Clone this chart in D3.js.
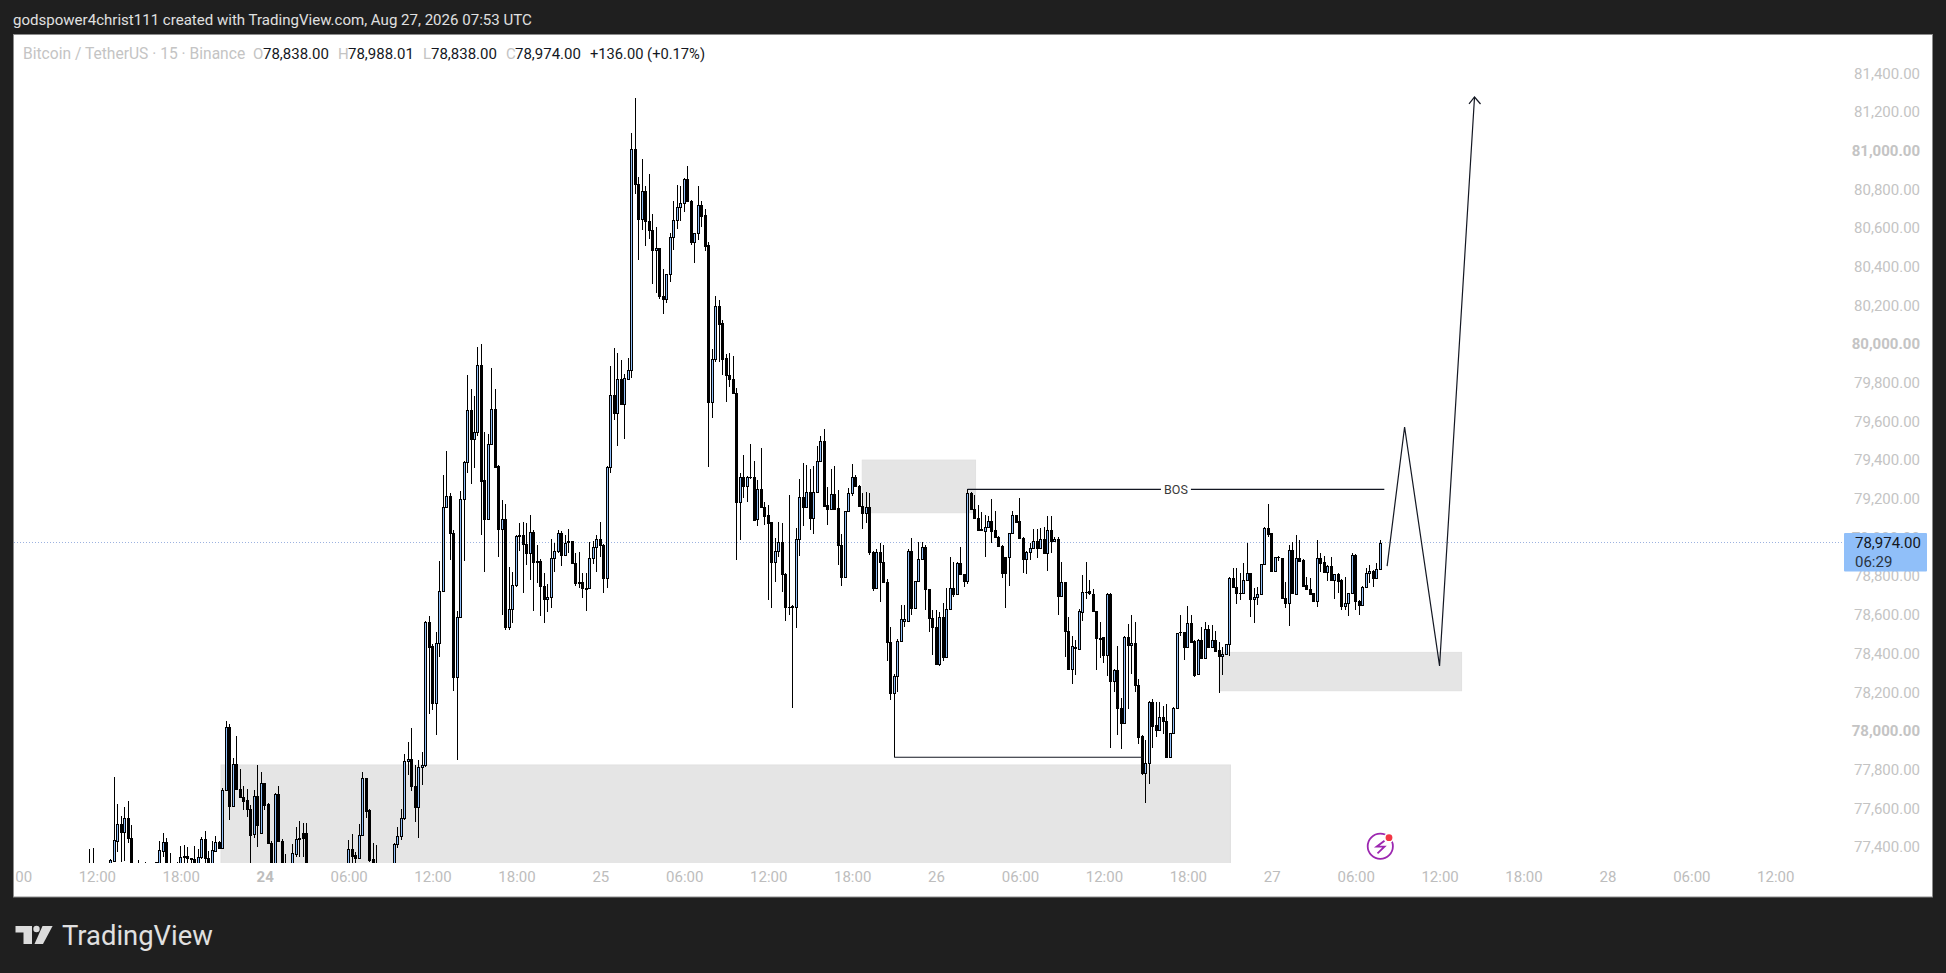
<!DOCTYPE html>
<html>
<head>
<meta charset="utf-8">
<style>
  html, body { margin: 0; padding: 0; background: #1f1f1f; }
  svg { display: block; }
  text { font-family: Roboto, sans-serif; }
</style>
<script src="https://cdn.jsdelivr.net/npm/d3@7"></script>
</head>
<body>
<svg id="chart" width="1946" height="973"></svg>
<script>
// Step 1: Data, BTCUSDT 15 minute bars
// ==============================================
const opens = [
  77150,77130,77160,77120,77100,77200,77270,77329,77433,77519,
  77479,77548,77445,77250,77230,77270,77250,77290,77260,77300,
  77318,77381,77426,77280,77300,77270,77300,77350,77353,77341,
  77338,77300,77346,77439,77341,77290,77381,77424,77393,77694,
  78018,77613,77827,77698,77660,77643,77595,77467,77663,77474,
  77729,77622,77422,77260,77672,77433,77260,77240,77290,77365,
  77439,77470,77470,77260,77180,77130,77170,77140,77090,77150,
  77190,77160,77210,77240,77290,77388,77358,77345,77460,77755,
  77591,77336,77280,77250,77220,77200,77260,77280,77414,77459,
  77548,77843,77853,77717,77609,77812,77826,78563,78439,78146,
  78453,78725,79155,79216,79021,78281,78590,79197,79388,79657,
  79507,79543,79891,79297,79093,79481,79662,79369,79042,79098,
  78539,78628,78756,79008,79011,78964,78921,79026,78871,78881,
  78750,78680,78690,78895,78928,79021,78911,78980,78980,78866,
  78768,78768,78737,78737,78895,78949,78990,78961,78792,79366,
  79734,79641,79817,79691,79820,79864,81007,80826,80645,80790,
  80634,80588,80485,80495,80250,80231,80360,80552,80640,80707,
  80727,80852,80741,80529,80572,80717,80665,80512,79702,79921,
  80195,80107,79926,79839,79817,79745,79182,79311,79268,79315,
  79311,79094,79249,79159,79116,79078,78875,78928,78975,78811,
  78642,78642,78642,78990,79207,79159,79233,79102,79233,79395,
  79497,79166,79145,79223,79150,78961,78794,79135,79232,79311,
  79268,79164,79125,79156,78927,78741,78923,78875,78768,78461,
  78198,78284,78463,78567,78567,78930,78637,78773,78887,78949,
  78732,78585,78535,78346,78587,78384,78629,78741,78706,78866,
  78809,78775,79228,79145,79102,79042,79035,79056,79083,79039,
  79004,78958,78897,78897,79021,79114,79083,78999,78890,78927,
  78944,78983,78944,78990,78921,79037,78983,78990,78699,78768,
  78518,78320,78430,78426,78616,78717,78722,78708,78622,78478,
  78483,78395,78707,78259,78315,78116,78042,78488,78442,78452,
  78240,77973,77784,77832,78152,78030,78004,78072,78053,77866,
  77987,78121,78509,78509,78435,78556,78466,78292,78470,78375,
  78525,78432,78470,78418,78389,78397,78448,78789,78746,78715,
  78715,78780,78815,78680,78694,78706,78861,79047,79022,78829,
  78898,78892,78686,78663,78935,78708,78892,78884,78754,78732,
  78711,78670,78892,78872,78823,78854,78779,78810,78780,78646,
  78660,78711,78910,78673,78651,78746,78815,78825,78789,78838
];
const highs = [
  77388,77395,77250,77200,77240,77300,77338,77763,77622,77560,
  77608,77638,77514,77300,77333,77300,77322,77310,77310,77321,
  77433,77474,77445,77371,77310,77324,77405,77408,77402,77345,
  77405,77388,77453,77483,77380,77433,77457,77433,77703,78053,
  78036,77858,77974,77801,77715,77698,77617,77694,77824,77789,
  77732,77626,77430,77677,77715,77440,77364,77300,77415,77505,
  77536,77526,77526,77290,77220,77200,77230,77190,77170,77220,
  77260,77240,77280,77300,77436,77467,77376,77519,77786,77755,
  77595,77419,77410,77300,77290,77280,77310,77420,77505,77595,
  77881,77941,78014,77824,77850,77891,78570,78594,78450,78510,
  78878,79322,79447,79231,79038,78620,79238,79397,79839,79770,
  79733,79986,80000,79546,79534,79874,79765,79374,79193,79173,
  78845,78823,79012,79073,79080,79076,79114,79038,78961,78887,
  78814,78762,78990,78969,79038,79033,79012,79042,78983,78921,
  78923,78818,78814,78976,78983,79011,79080,78964,79369,79886,
  79982,79955,79920,79845,79926,81089,81270,80862,80955,80817,
  80879,80671,80605,80498,80386,80364,80572,80740,80820,80817,
  80857,80920,80745,80576,80817,80740,80696,80526,79975,80248,
  80228,80124,79949,79952,79938,79771,79335,79426,79318,79483,
  79395,79297,79461,79185,79168,79082,78996,79082,79073,78815,
  79220,78649,79047,79301,79383,79375,79352,79369,79473,79525,
  79559,79259,79352,79369,79245,79018,79139,79254,79380,79323,
  79271,79232,79233,79228,78930,78939,78970,78961,78785,78539,
  78294,78473,78651,78651,78939,78996,78777,78975,78978,78961,
  78735,78625,78625,78613,78663,78737,78901,78875,78875,78952,
  78813,79249,79237,79220,79168,79133,79116,79111,79197,79139,
  79008,78961,78901,79025,79139,79118,79204,79002,78930,78970,
  79044,79042,79047,79056,79113,79113,79004,79004,78875,78772,
  78587,78490,78470,78628,78806,78875,78780,78732,78622,78564,
  78487,78711,78711,78318,78439,78168,78492,78551,78599,78564,
  78271,77977,77953,78156,78163,78151,78151,78128,78139,77991,
  78125,78507,78599,78513,78645,78599,78470,78473,78535,78564,
  78547,78547,78518,78461,78432,78449,78794,78841,78841,78815,
  78867,78970,78818,78737,78746,78865,79053,79173,79025,78901,
  78904,78896,78772,78961,78978,79013,78987,78887,78794,78789,
  78715,78987,78918,78906,78858,78897,78813,78815,78784,78798,
  78715,78922,78913,78677,78749,78841,78858,78832,78870,78988.01
];
const lows = [
  77100,77100,77080,77050,77050,77150,77200,77324,77376,77324,
  77329,77419,77200,77180,77200,77200,77200,77220,77210,77250,
  77250,77350,77230,77220,77240,77220,77260,77280,77280,77300,
  77250,77260,77340,77290,77260,77270,77375,77388,77390,77690,
  77539,77610,77695,77655,77591,77557,77250,77445,77398,77470,
  77591,77419,77200,77200,77430,77200,77150,77150,77250,77350,
  77350,77350,77200,77150,77100,77080,77120,77060,77050,77110,
  77150,77120,77170,77200,77250,77290,77290,77336,77455,77548,
  77325,77230,77200,77180,77160,77170,77210,77250,77397,77436,
  77540,77772,77691,77531,77448,77721,77815,78088,78108,77979,
  78381,78719,79150,78883,78208,77850,78585,78880,79331,79279,
  79360,79524,79012,78823,79090,79478,79362,78900,78599,78521,
  78521,78559,78745,78931,78714,78857,78780,78621,78766,78594,
  78559,78616,78633,78823,78921,78852,78907,78921,78861,78749,
  78737,78688,78621,78733,78862,78821,78900,78714,78737,79335,
  79607,79472,79686,79510,79828,79826,80776,80435,80590,80509,
  80545,80310,80266,80233,80154,80214,80323,80486,80595,80638,
  80684,80738,80512,80421,80538,80607,80483,79366,79619,79909,
  79908,79840,79702,79776,79745,78884,78987,79202,79185,79304,
  79087,79061,79152,79064,78677,78634,78772,78901,78720,78570,
  78599,78120,78530,78906,79059,79156,79039,79018,79228,79392,
  79159,79064,79142,79142,78858,78749,78791,79132,79216,79263,
  79161,79044,79073,78909,78723,78737,78668,78765,78363,78160,
  77864,78203,78460,78539,78563,78599,78634,78770,78884,78625,
  78513,78393,78342,78336,78363,78380,78625,78694,78703,78806,
  78746,78760,79142,79099,79037,79039,78901,79053,78970,79001,
  78954,78789,78637,78751,79018,79078,78996,78818,78811,78884,
  78940,78892,78940,78918,78828,78918,78980,78599,78696,78384,
  78316,78242,78289,78421,78570,78680,78703,78617,78314,78375,
  78352,78283,77913,78202,77978,77906,78039,78113,78294,78202,
  77935,77772,77629,77725,77913,77970,78001,77982,77858,77863,
  77984,78118,78492,78366,78432,78457,78280,78289,78371,78371,
  78428,78428,78411,78197,78289,78394,78388,78742,78656,78677,
  78711,78777,78591,78556,78651,78703,78858,79004,78823,78825,
  78880,78682,78634,78544,78708,78705,78877,78748,78729,78705,
  78667,78642,78823,78820,78777,78777,78682,78711,78625,78625,
  78596,78708,78625,78599,78648,78742,78763,78746,78785,78838
];
const closes = [
  77130,77160,77120,77100,77200,77270,77333,77436,77519,77479,
  77548,77445,77250,77230,77270,77250,77290,77260,77300,77320,
  77384,77426,77280,77300,77270,77300,77346,77352,77341,77340,
  77300,77346,77439,77341,77290,77384,77424,77393,77694,78018,
  77613,77827,77698,77660,77639,77595,77462,77663,77514,77729,
  77617,77422,77250,77672,77433,77260,77240,77290,77367,77439,
  77445,77445,77260,77180,77130,77170,77140,77090,77150,77190,
  77160,77210,77240,77290,77388,77355,77341,77460,77755,77588,
  77333,77280,77250,77220,77200,77260,77280,77414,77459,77548,
  77843,77853,77717,77609,77812,77826,78563,78436,78146,78453,
  78725,79155,79216,79021,78281,78590,79197,79388,79657,79507,
  79543,79891,79293,79093,79481,79662,79366,79042,79097,78539,
  78628,78756,79007,79011,78964,78921,79026,78871,78881,78750,
  78680,78690,78895,78928,79021,78911,78974,78978,78866,78766,
  78767,78737,78736,78895,78949,78990,78961,78792,79366,79734,
  79641,79817,79690,79822,79864,81007,80826,80645,80790,80634,
  80588,80485,80495,80250,80231,80360,80552,80640,80707,80727,
  80852,80741,80529,80572,80717,80664,80509,79702,79921,80195,
  80105,79925,79840,79817,79745,79182,79311,79266,79314,79314,
  79090,79249,79156,79113,79077,78875,78928,78975,78810,78642,
  78641,78645,78990,79207,79159,79233,79102,79233,79395,79497,
  79163,79145,79223,79145,78961,78794,79135,79232,79311,79268,
  79164,79125,79156,78927,78741,78923,78875,78768,78461,78198,
  78284,78463,78577,78577,78930,78637,78773,78887,78949,78732,
  78585,78535,78346,78587,78384,78629,78741,78706,78866,78809,
  78775,79228,79145,79102,79040,79040,79056,79083,79035,79004,
  78958,78818,78818,79021,79114,79082,78999,78890,78927,78944,
  78983,78944,78990,78921,79037,78983,78990,78699,78768,78518,
  78321,78439,78432,78619,78716,78720,78711,78622,78478,78477,
  78395,78707,78259,78315,78116,78042,78488,78442,78452,78239,
  77970,77784,77832,78152,78027,78004,78072,78053,77866,77987,
  78121,78504,78510,78435,78556,78461,78289,78470,78375,78525,
  78432,78470,78414,78389,78397,78447,78789,78746,78711,78713,
  78780,78815,78680,78694,78706,78861,79047,79018,78829,78898,
  78897,78686,78663,78935,78711,78892,78880,78751,78732,78708,
  78670,78892,78870,78823,78854,78780,78810,78777,78646,78660,
  78711,78910,78673,78651,78746,78815,78825,78789,78835,78974
];

const firstBarTime = Date.UTC(2026, 7, 23, 11, 30);
const barMinutes = 15;

const priceTicks = [77400,77600,77800,78000,78200,78400,78600,78800,79000,79200,79400,79600,79800,80000,80200,80400,80600,80800,81000,81200,81400];
const timeTickLabels = ["06:00","12:00","18:00","24","06:00","12:00","18:00","25","06:00","12:00","18:00","26","06:00","12:00","18:00","27","06:00","12:00","18:00","28","06:00","12:00"];
const timeTicks = timeTickLabels.map((d, i) => Date.UTC(2026, 7, 23, 6 + i * 6));

// drawings on the chart, anchored on bar number and price
const zoneStartBars = [37.5, 220.9, 323];
const zoneEndBars = [326.2, 253.3, 392.3];
const zoneTops = [77824, 79400, 78406];
const zoneBottoms = [77200, 79128, 78208];
const pathBars = [371, 376, 386, 396];
const pathPrices = [78852, 79571, 78336, 81277];
const bosBars = [251, 370.2];
const bosPrice = 79249;
const lowLineBars = [230, 301];
const lowLinePrice = 77864;
const lastPrice = 78974;

// Step 2: Scales
// ==============================================
const svg = d3.select("#chart");

const xTime = d3.scaleUtc()
  .domain([Date.UTC(2026, 7, 24), Date.UTC(2026, 7, 28)])
  .range([264.7, 1607.4]);
const yScale = d3.scaleLinear()
  .domain([77400, 81400])
  .range([847, 73.2]);

const barX = i => xTime(firstBarTime + i * barMinutes * 60000);
const barPx = i => Math.floor(barX(i));

// Step 3: Frame
// ==============================================
svg.append("rect").attr("width", 1946).attr("height", 973).attr("fill", "#1f1f1f");
svg.append("rect")
  .attr("x", 13.5).attr("y", 34.5).attr("width", 1919).attr("height", 862.5)
  .attr("fill", "#ffffff").attr("stroke", "#8c8c8c");

const defs = svg.append("defs");
defs.append("clipPath").attr("id", "pane")
  .append("rect").attr("x", 14).attr("y", 35).attr("width", 1830).attr("height", 828);
defs.append("clipPath").attr("id", "timeClip")
  .append("rect").attr("x", 15.5).attr("y", 865).attr("width", 1830).attr("height", 30);

svg.append("text").attr("x", 13).attr("y", 25)
  .attr("font-size", 15.05).attr("fill", "#e0e0e0")
  .text("godspower4christ111 created with TradingView.com, Aug 27, 2026 07:53 UTC");

// Step 4: Price line, zones, candles
// ==============================================
const pane = svg.append("g").attr("clip-path", "url(#pane)");

pane.append("line")
  .attr("x1", 14).attr("x2", 1844)
  .attr("y1", yScale(lastPrice)).attr("y2", yScale(lastPrice))
  .attr("stroke", "#9cb2e0").attr("stroke-dasharray", "1,2");

pane.selectAll(".zone")
  .data(zoneStartBars)
  .enter().append("rect")
  .attr("class", "zone")
  .attr("x", d => barX(d))
  .attr("width", (d, i) => barX(zoneEndBars[i]) - barX(d))
  .attr("y", (d, i) => yScale(zoneTops[i]))
  .attr("height", (d, i) => yScale(zoneBottoms[i]) - yScale(zoneTops[i]))
  .attr("fill", "#e5e5e5").attr("stroke", "#e1e1e1").attr("stroke-width", 1);

const candles = pane.append("g").attr("shape-rendering", "crispEdges");

candles.selectAll(".wick")
  .data(opens)
  .enter().append("rect")
  .attr("class", "wick")
  .attr("x", (d, i) => barPx(i))
  .attr("width", 1)
  .attr("y", (d, i) => Math.round(yScale(highs[i])))
  .attr("height", (d, i) => Math.max(1, Math.round(yScale(lows[i])) - Math.round(yScale(highs[i]))))
  .attr("fill", "#000");

const bodyTop = i => Math.round(yScale(Math.max(opens[i], closes[i])));
const bodyBottom = i => Math.round(yScale(Math.min(opens[i], closes[i])));

candles.selectAll(".body")
  .data(opens)
  .enter().append("rect")
  .attr("class", "body")
  .attr("x", (d, i) => barPx(i) - 1)
  .attr("width", 3)
  .attr("y", (d, i) => bodyTop(i))
  .attr("height", (d, i) => Math.max(1, bodyBottom(i) - bodyTop(i) + 1))
  .attr("fill", "#000");

candles.selectAll(".fill")
  .data(d3.range(opens.length).filter(i => closes[i] > opens[i] && bodyBottom(i) - bodyTop(i) > 1))
  .enter().append("rect")
  .attr("class", "fill")
  .attr("x", i => barPx(i))
  .attr("width", 1)
  .attr("y", i => bodyTop(i) + 1)
  .attr("height", i => bodyBottom(i) - bodyTop(i) - 1)
  .attr("fill", "#90bff9");

// Step 5: Trend lines and arrow
// ==============================================
pane.append("line")
  .attr("x1", barX(lowLineBars[0])).attr("x2", barX(lowLineBars[1]))
  .attr("y1", yScale(lowLinePrice)).attr("y2", yScale(lowLinePrice))
  .attr("stroke", "#131722").attr("stroke-width", 1.2);

pane.append("line")
  .attr("x1", barX(bosBars[0])).attr("x2", barX(bosBars[1]))
  .attr("y1", yScale(bosPrice)).attr("y2", yScale(bosPrice))
  .attr("stroke", "#131722").attr("stroke-width", 1.2);

const bosMid = (barX(bosBars[0]) + barX(bosBars[1])) / 2;
pane.append("rect")
  .attr("x", bosMid - 15).attr("width", 30)
  .attr("y", yScale(bosPrice) - 6).attr("height", 12)
  .attr("fill", "#fff");
pane.append("text")
  .attr("x", bosMid).attr("y", yScale(bosPrice) + 4.5)
  .attr("text-anchor", "middle").attr("font-size", 12.5).attr("fill", "#3a3a3a")
  .text("BOS");

const forecast = d3.line()
  .x(d => barX(d))
  .y((d, i) => yScale(pathPrices[i]));
pane.append("path")
  .attr("d", forecast(pathBars))
  .attr("fill", "none").attr("stroke", "#131722").attr("stroke-width", 1.2);

// arrow head at the end of the forecast
const tipX = barX(pathBars[3]);
const tipY = yScale(pathPrices[3]);
pane.append("path")
  .attr("d", `M${tipX - 5.5},${tipY + 7}L${tipX},${tipY}L${tipX + 6},${tipY + 7}`)
  .attr("fill", "none").attr("stroke", "#131722").attr("stroke-width", 1.2);

// Step 6: Axes
// ==============================================
const yAxis = svg.append("g")
  .attr("transform", "translate(1920,0)")
  .call(d3.axisRight(yScale).tickValues(priceTicks).tickFormat(d3.format(",.2f")).tickSize(0).tickPadding(0));
yAxis.select(".domain").remove();
yAxis.selectAll("text")
  .attr("text-anchor", "end")
  .attr("font-family", "Roboto, sans-serif")
  .attr("font-size", 15)
  .attr("font-weight", d => d % 1000 === 0 ? 700 : 400)
  .attr("fill", "#c4c4c4");

const xAxis = svg.append("g")
  .attr("clip-path", "url(#timeClip)")
  .append("g")
  .attr("transform", "translate(0,871)")
  .call(d3.axisBottom(xTime).tickValues(timeTicks).tickFormat((d, i) => timeTickLabels[i]).tickSize(0).tickPadding(0));
xAxis.select(".domain").remove();
xAxis.selectAll("text")
  .attr("font-family", "Roboto, sans-serif")
  .attr("font-size", 15)
  .attr("font-weight", (d, i) => timeTickLabels[i] === "24" ? 700 : 400)
  .attr("fill", "#bdbdbd");

// last price label over the axis
svg.append("rect")
  .attr("x", 1844).attr("y", yScale(lastPrice) - 9.5)
  .attr("width", 83).attr("height", 38.5).attr("rx", 1)
  .attr("fill", "#90bff9");
svg.append("text").attr("x", 1855).attr("y", yScale(lastPrice) + 5.5)
  .attr("font-size", 15).attr("fill", "#131722").text("78,974.00");
svg.append("text").attr("x", 1855).attr("y", yScale(lastPrice) + 24)
  .attr("font-size", 15).attr("fill", "#2a3442").text("06:29");

// Step 7: Legend
// ==============================================
const legendParts = [
  { x: 23, size: 15.6, text: "Bitcoin / TetherUS \u00b7 15 \u00b7 Binance", color: "#c4c4c4" },
  { x: 253, size: 15, text: "O", color: "#c4c4c4" },
  { x: 263, size: 15, text: "78,838.00", color: "#131722" },
  { x: 338, size: 15, text: "H", color: "#c4c4c4" },
  { x: 348, size: 15, text: "78,988.01", color: "#131722" },
  { x: 423, size: 15, text: "L", color: "#c4c4c4" },
  { x: 431, size: 15, text: "78,838.00", color: "#131722" },
  { x: 506, size: 15, text: "C", color: "#c4c4c4" },
  { x: 515, size: 15, text: "78,974.00", color: "#131722" },
  { x: 590, size: 14.7, text: "+136.00 (+0.17%)", color: "#131722" }
];
svg.selectAll(".legend")
  .data(legendParts)
  .enter().append("text")
  .attr("class", "legend")
  .attr("x", d => d.x).attr("y", 59)
  .attr("font-size", d => d.size)
  .attr("fill", d => d.color)
  .text(d => d.text);

// Step 8: Bolt icon and footer logo
// ==============================================
const bolt = svg.append("g").attr("fill", "none");
bolt.append("circle")
  .attr("cx", 1380.3).attr("cy", 846.3).attr("r", 12.6)
  .attr("stroke", "#9c27b0").attr("stroke-width", 1.8);
bolt.append("path")
  .attr("d", "M1384.5,840.7L1376.6,846.7L1384.5,846.7L1377.5,853.3")
  .attr("stroke", "#9c27b0").attr("stroke-width", 1.8);
bolt.append("circle")
  .attr("cx", 1389).attr("cy", 837.7).attr("r", 5)
  .attr("fill", "#fff");
bolt.append("circle")
  .attr("cx", 1389).attr("cy", 837.7).attr("r", 3.4)
  .attr("fill", "#f23645");

const logo = svg.append("g").attr("fill", "#dcdcdc");
logo.append("path").attr("d", "M15.5,926H32V944H23.5V932.5H15.5Z");
logo.append("circle").attr("cx", 36.5).attr("cy", 929).attr("r", 3.2);
logo.append("path").attr("d", "M42.5,926H52.6L43,944H34.5Z");
logo.append("text")
  .attr("x", 62).attr("y", 945)
  .attr("font-family", "Inter, sans-serif").attr("font-weight", 400)
  .attr("font-size", 27.4).attr("fill", "#e0e0e0")
  .text("TradingView");
</script>
</body>
</html>
